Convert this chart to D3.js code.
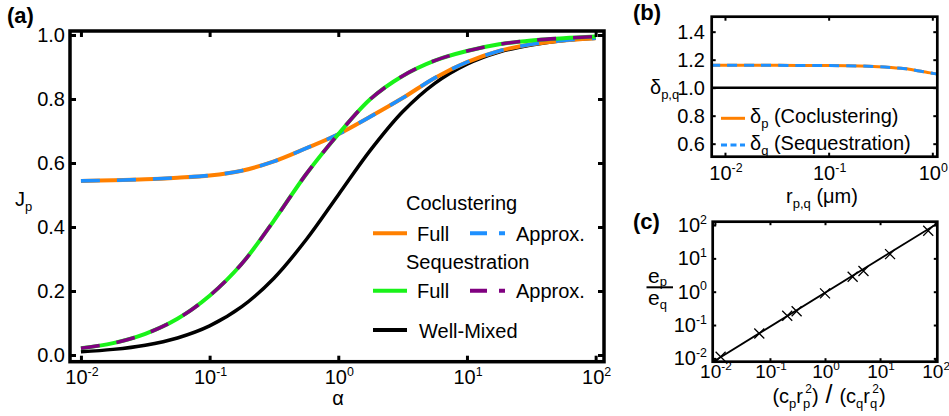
<!DOCTYPE html>
<html><head><meta charset="utf-8">
<script src="https://cdn.jsdelivr.net/npm/d3@7"></script>
<style>
body{margin:0;background:#fff}
svg{display:block}
text{font-family:"Liberation Sans",Arial,Helvetica,sans-serif;fill:#000}
</style>
</head><body>
<svg id="chart" width="949" height="416"></svg>
<script>
// ---------- DATA ----------
// Panel (a)
const alphaVals = [0.01, 0.01778, 0.03162, 0.05623, 0.1, 0.1778, 0.3162, 0.5623, 1, 1.778, 3.162, 5.623, 10, 17.78, 31.62, 56.23, 100];
const coclusterFull   = [0.544, 0.546, 0.549, 0.554, 0.561, 0.576, 0.605, 0.646, 0.690, 0.745, 0.803, 0.866, 0.915, 0.950, 0.971, 0.983, 0.990];
const coclusterApprox = [0.544, 0.546, 0.549, 0.554, 0.561, 0.576, 0.605, 0.646, 0.690, 0.745, 0.803, 0.866, 0.915, 0.950, 0.971, 0.983, 0.990];
const seqFull   = [0.021, 0.037, 0.066, 0.113, 0.185, 0.285, 0.420, 0.565, 0.690, 0.800, 0.872, 0.920, 0.950, 0.971, 0.983, 0.990, 0.995];
const seqApprox = [0.021, 0.037, 0.066, 0.113, 0.185, 0.285, 0.420, 0.565, 0.690, 0.800, 0.872, 0.920, 0.950, 0.971, 0.983, 0.990, 0.995];
const wellMixed = [0.0099, 0.0175, 0.0307, 0.0532, 0.0909, 0.151, 0.240, 0.360, 0.500, 0.640, 0.760, 0.849, 0.909, 0.947, 0.969, 0.983, 0.990];
const aYTicks = [0, 0.2, 0.4, 0.6, 0.8, 1.0];
const aYTickLabels = ["0.0", "0.2", "0.4", "0.6", "0.8", "1.0"];
const aXTicks = [0.01, 0.1, 1, 10, 100];
const aXExps = ["-2", "-1", "0", "1", "2"];

// Panel (b)
const rVals  = [0.0072, 0.01, 0.02, 0.05, 0.1, 0.2, 0.3, 0.4, 0.5, 0.6, 0.7, 0.8, 0.9, 1.0, 1.12];
const deltaP = [1.160, 1.160, 1.160, 1.159, 1.158, 1.155, 1.150, 1.144, 1.138, 1.132, 1.123, 1.116, 1.109, 1.103, 1.097];
const deltaQ = [1.160, 1.160, 1.160, 1.159, 1.158, 1.155, 1.150, 1.144, 1.138, 1.132, 1.123, 1.116, 1.109, 1.103, 1.097];
const bYTicks = [0.6, 0.8, 1.0, 1.2, 1.4];
const bYTickLabels = ["0.6", "0.8", "1.0", "1.2", "1.4"];
const bXTicks = [0.01, 0.1, 1];
const bXExps = ["-2", "-1", "0"];
const bRefLine = [1.0];

// Panel (c)
const ratioX = [0.0127, 0.064, 0.206, 0.305, 1.0, 3.18, 5.0, 15.2, 75];
const ratioY = [0.0112, 0.056, 0.19, 0.26, 0.89, 2.8, 4.2, 13.4, 67];
const fitX = [0.0093, 110];
const fitY = [0.0079, 112];
const cTicks = [0.01, 0.1, 1, 10, 100];
const cExps = ["-2", "-1", "0", "1", "2"];

// ---------- COLOURS ----------
const ORANGE = "#ff8000", BLUE = "#1e90ff", GREEN = "#19f219", PURPLE = "#800080";

const svg = d3.select("#chart");
svg.append("rect").attr("width", 949).attr("height", 416).attr("fill", "#fff");

function powLabel(g, x, y, exp, size, anchor) {
  const t = g.append("text").attr("x", x).attr("y", y).attr("text-anchor", anchor).attr("font-size", size);
  t.append("tspan").text("10");
  t.append("tspan").attr("dy", -size * 0.42).attr("font-size", size * 0.62).text(exp);
  return t;
}

function frameTicks(g, x, y, xTicks, yTicks, len, sw) {
  const [x0, x1] = x.range(), [y0, y1] = y.range();
  const axes = [
    d3.axisBottom(x).tickValues(xTicks).tickSize(-len).tickFormat(""),
    d3.axisTop(x).tickValues(xTicks).tickSize(-len).tickFormat(""),
    d3.axisLeft(y).tickValues(yTicks).tickSize(-len).tickFormat(""),
    d3.axisRight(y).tickValues(yTicks).tickSize(-len).tickFormat("")
  ];
  const tr = [`translate(0,${y0})`, `translate(0,${y1})`, `translate(${x0},0)`, `translate(${x1},0)`];
  axes.forEach((ax, i) => {
    const a = g.append("g").attr("transform", tr[i]).call(ax);
    a.select(".domain").remove();
    a.selectAll("line").attr("stroke", "#000").attr("stroke-width", sw);
  });
}

// ================= PANEL (a) =================
const xa = d3.scaleLog().domain([Math.pow(10, -2.085), Math.pow(10, 2.065)]).range([70, 604]);
const ya = d3.scaleLinear().domain([-0.021, 1.0125]).range([361.7, 31]);
const ga = svg.append("g");
ga.append("clipPath").attr("id", "clipA").append("rect")
  .attr("x", 70).attr("y", 31).attr("width", 534).attr("height", 330.7);

const lineA = ys => d3.line().x((d, i) => xa(alphaVals[i])).y(d => ya(d)).curve(d3.curveCatmullRom.alpha(0.5))(ys);
const curvesA = ga.append("g").attr("clip-path", "url(#clipA)");
curvesA.append("path").attr("d", lineA(wellMixed)).attr("fill", "none").attr("stroke", "#000").attr("stroke-width", 3.5);
curvesA.append("path").attr("d", lineA(coclusterFull)).attr("fill", "none").attr("stroke", ORANGE).attr("stroke-width", 4);
curvesA.append("path").attr("d", lineA(coclusterApprox)).attr("fill", "none").attr("stroke", BLUE).attr("stroke-width", 3.6).attr("stroke-dasharray", "19,17");
curvesA.append("path").attr("d", lineA(seqFull)).attr("fill", "none").attr("stroke", GREEN).attr("stroke-width", 4);
curvesA.append("path").attr("d", lineA(seqApprox)).attr("fill", "none").attr("stroke", PURPLE).attr("stroke-width", 3.6).attr("stroke-dasharray", "19,17");

frameTicks(ga, xa, ya, aXTicks, aYTicks, 6, 3);
ga.append("rect").attr("x", 70).attr("y", 31).attr("width", 534).attr("height", 330.7)
  .attr("fill", "none").attr("stroke", "#000").attr("stroke-width", 3.5);

aYTicks.forEach((v, i) => {
  ga.append("text").attr("x", 65).attr("y", ya(v) + 7).attr("text-anchor", "end").attr("font-size", 20).text(aYTickLabels[i]);
});
aXTicks.forEach((v, i) => powLabel(ga, xa(v) + 1, 384, aXExps[i], 20, "middle"));

const jl = ga.append("text").attr("x", 15).attr("y", 206).attr("font-size", 20);
jl.append("tspan").text("J");
jl.append("tspan").attr("dy", 5).attr("font-size", 13).text("p");
ga.append("text").attr("x", 338).attr("y", 405).attr("text-anchor", "middle").attr("font-size", 20).text("α");
ga.append("text").attr("x", 7).attr("y", 23).attr("font-size", 22).attr("font-weight", "bold").text("(a)");

// legend (a)
const LG = ga.append("g");
LG.append("text").attr("x", 406).attr("y", 210).attr("font-size", 20).text("Coclustering");
LG.append("line").attr("x1", 373).attr("x2", 407).attr("y1", 233.3).attr("y2", 233.3).attr("stroke", ORANGE).attr("stroke-width", 4);
LG.append("text").attr("x", 417).attr("y", 240.7).attr("font-size", 20).text("Full");
LG.append("line").attr("x1", 470).attr("x2", 505).attr("y1", 233.3).attr("y2", 233.3).attr("stroke", BLUE).attr("stroke-width", 4).attr("stroke-dasharray", "17,12");
LG.append("text").attr("x", 516).attr("y", 240.7).attr("font-size", 20).text("Approx.");
LG.append("text").attr("x", 406).attr("y", 269).attr("font-size", 20).text("Sequestration");
LG.append("line").attr("x1", 373).attr("x2", 407).attr("y1", 290.7).attr("y2", 290.7).attr("stroke", GREEN).attr("stroke-width", 4);
LG.append("text").attr("x", 417).attr("y", 298).attr("font-size", 20).text("Full");
LG.append("line").attr("x1", 470).attr("x2", 505).attr("y1", 290.7).attr("y2", 290.7).attr("stroke", PURPLE).attr("stroke-width", 4).attr("stroke-dasharray", "17,12");
LG.append("text").attr("x", 516).attr("y", 298).attr("font-size", 20).text("Approx.");
LG.append("line").attr("x1", 373).attr("x2", 407).attr("y1", 330).attr("y2", 330).attr("stroke", "#000").attr("stroke-width", 4);
LG.append("text").attr("x", 419).attr("y", 338).attr("font-size", 20).text("Well-Mixed");

// ================= PANEL (b) =================
const xb = d3.scaleLog().domain([Math.pow(10, -2.128), Math.pow(10, 0.048)]).range([711.7, 937.3]);
const yb = d3.scaleLinear().domain([0.507, 1.507]).range([156.7, 16.7]);
const gb = svg.append("g");
gb.append("clipPath").attr("id", "clipB").append("rect")
  .attr("x", 711.7).attr("y", 16.7).attr("width", 225.6).attr("height", 140);
const cb = gb.append("g").attr("clip-path", "url(#clipB)");
bRefLine.forEach(v => cb.append("line").attr("x1", xb.range()[0]).attr("x2", xb.range()[1])
  .attr("y1", yb(v)).attr("y2", yb(v)).attr("stroke", "#000").attr("stroke-width", 2.5));
const lineB = ys => d3.line().x((d, i) => xb(rVals[i])).y(d => yb(d)).curve(d3.curveCatmullRom.alpha(0.5))(ys);
cb.append("path").attr("d", lineB(deltaP)).attr("fill", "none").attr("stroke", ORANGE).attr("stroke-width", 3);
cb.append("path").attr("d", lineB(deltaQ)).attr("fill", "none").attr("stroke", BLUE).attr("stroke-width", 3).attr("stroke-dasharray", "10,7");
frameTicks(gb, xb, yb, bXTicks, bYTicks, 4, 2);
gb.append("rect").attr("x", 711.7).attr("y", 16.7).attr("width", 225.6).attr("height", 140)
  .attr("fill", "none").attr("stroke", "#000").attr("stroke-width", 2.7);
bYTicks.forEach((v, i) => gb.append("text").attr("x", 705).attr("y", yb(v) + 7.5).attr("text-anchor", "end").attr("font-size", 20).text(bYTickLabels[i]));
bXTicks.forEach((v, i) => powLabel(gb, xb(v) + 1, 180, bXExps[i], 20, "middle"));
const dl = gb.append("text").attr("x", 650).attr("y", 94).attr("font-size", 20);
dl.append("tspan").text("δ");
dl.append("tspan").attr("dy", 5).attr("font-size", 13).text("p,q");
const rl = gb.append("text").attr("x", 822).attr("y", 203).attr("text-anchor", "middle").attr("font-size", 20);
rl.append("tspan").text("r");
rl.append("tspan").attr("dy", 5).attr("font-size", 13).text("p,q");
rl.append("tspan").attr("dy", -5).text(" (μm)");
gb.append("text").attr("x", 633).attr("y", 20).attr("font-size", 22).attr("font-weight", "bold").text("(b)");
// legend (b)
gb.append("line").attr("x1", 721).attr("x2", 745).attr("y1", 118.3).attr("y2", 118.3).attr("stroke", ORANGE).attr("stroke-width", 3);
gb.append("line").attr("x1", 721).attr("x2", 745).attr("y1", 145).attr("y2", 145).attr("stroke", BLUE).attr("stroke-width", 3).attr("stroke-dasharray", "6,3.5");
const lb1 = gb.append("text").attr("x", 750).attr("y", 122.5).attr("font-size", 20);
lb1.append("tspan").text("δ");
lb1.append("tspan").attr("dy", 5).attr("font-size", 13).text("p");
lb1.append("tspan").attr("dy", -5).text(" (Coclustering)");
const lb2 = gb.append("text").attr("x", 750).attr("y", 149.8).attr("font-size", 20);
lb2.append("tspan").text("δ");
lb2.append("tspan").attr("dy", 5).attr("font-size", 13).text("q");
lb2.append("tspan").attr("dy", -5).text(" (Sequestration)");

// ================= PANEL (c) =================
const xc = d3.scaleLog().domain([Math.pow(10, -2.04), Math.pow(10, 2.04)]).range([712.7, 937.3]);
const yc = d3.scaleLog().domain([Math.pow(10, -2.1), Math.pow(10, 2.1)]).range([361.7, 221.7]);
const gc = svg.append("g");
gc.append("clipPath").attr("id", "clipC").append("rect")
  .attr("x", 712.7).attr("y", 221.7).attr("width", 224.6).attr("height", 140);
const cc = gc.append("g").attr("clip-path", "url(#clipC)");
cc.append("path").attr("d", d3.line().x((d, i) => xc(fitX[i])).y(d => yc(d))(fitY))
  .attr("fill", "none").attr("stroke", "#000").attr("stroke-width", 1.8);
cc.selectAll("path.mk").data(ratioY).join("path").attr("class", "mk")
  .attr("d", (d, i) => {
    const x = xc(ratioX[i]), y = yc(d), s = 5;
    return `M${x - s},${y - s}L${x + s},${y + s}M${x - s},${y + s}L${x + s},${y - s}`;
  })
  .attr("stroke", "#000").attr("stroke-width", 1.3).attr("fill", "none");
frameTicks(gc, xc, yc, cTicks, cTicks, 3.5, 2);
gc.append("rect").attr("x", 712.7).attr("y", 221.7).attr("width", 224.6).attr("height", 140)
  .attr("fill", "none").attr("stroke", "#000").attr("stroke-width", 2.7);
cTicks.forEach((v, i) => powLabel(gc, 707, yc(v) + 7, cExps[i], 20, "end"));
cTicks.forEach((v, i) => powLabel(gc, xc(v) + 1, 378, cExps[i], 19, "middle"));
gc.append("text").attr("x", 633).attr("y", 229).attr("font-size", 22).attr("font-weight", "bold").text("(c)");
// y label fraction
const en = gc.append("text").attr("x", 648).attr("y", 282.5).attr("font-size", 21);
en.append("tspan").text("e");
en.append("tspan").attr("dy", 3).attr("font-size", 13).text("p");
gc.append("line").attr("x1", 646.5).attr("x2", 673).attr("y1", 287.3).attr("y2", 287.3).attr("stroke", "#000").attr("stroke-width", 2);
const ed = gc.append("text").attr("x", 648).attr("y", 305).attr("font-size", 21);
ed.append("tspan").text("e");
ed.append("tspan").attr("dy", 4).attr("font-size", 13).text("q");
// x label
const xl = gc.append("text").attr("x", 829).attr("y", 403).attr("text-anchor", "middle").attr("font-size", 20);
xl.append("tspan").text("(c");
xl.append("tspan").attr("dy", 5).attr("font-size", 13).text("p");
xl.append("tspan").attr("dy", -5).text("r");
xl.append("tspan").attr("dy", 5).attr("font-size", 13).text("p");
xl.append("tspan").attr("dy", -15).attr("dx", -5).attr("font-size", 12).text("2");
xl.append("tspan").attr("dy", 10).text(")");
xl.append("tspan").attr("font-size", 25).text(" / ");
xl.append("tspan").text("(c");
xl.append("tspan").attr("dy", 5).attr("font-size", 13).text("q");
xl.append("tspan").attr("dy", -5).text("r");
xl.append("tspan").attr("dy", 5).attr("font-size", 13).text("q");
xl.append("tspan").attr("dy", -15).attr("dx", -5).attr("font-size", 12).text("2");
xl.append("tspan").attr("dy", 10).text(")");
</script>
</body></html>
